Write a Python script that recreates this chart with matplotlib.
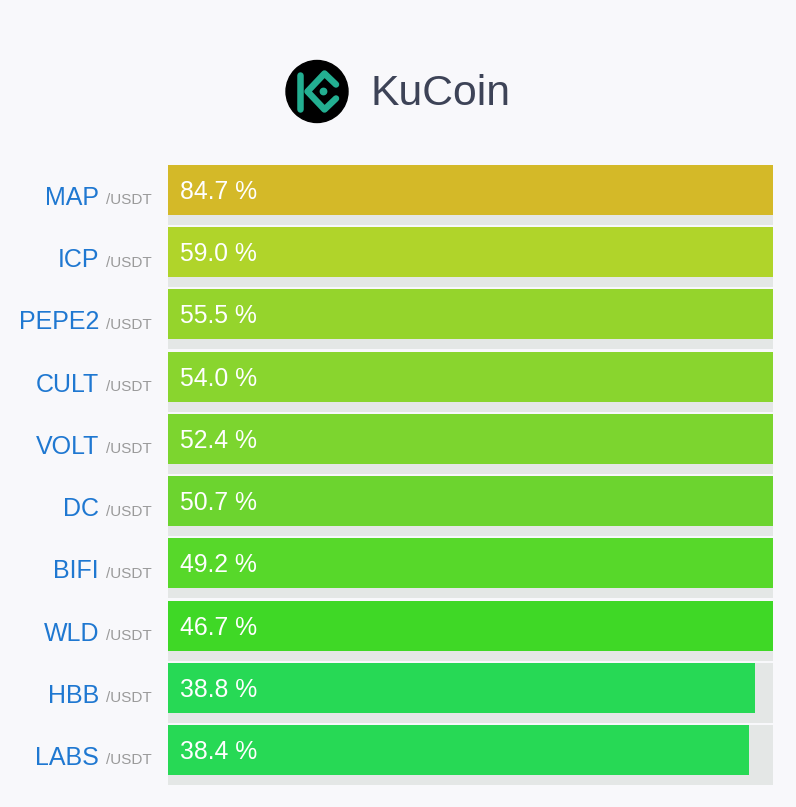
import matplotlib.pyplot as plt
from matplotlib.patches import Circle
from matplotlib.transforms import blended_transform_factory

# data
symbols = ['MAP', 'ICP', 'PEPE2', 'CULT', 'VOLT', 'DC', 'BIFI', 'WLD', 'HBB', 'LABS']
changes = [84.7, 59.0, 55.5, 54.0, 52.4, 50.7, 49.2, 46.7, 38.8, 38.4]
colors = ['#d4b928', '#b0d42a', '#95d42c', '#89d52e', '#7cd52f',
          '#6cd42f', '#57d82a', '#3fd826', '#27d955', '#27d955']
quote = '/USDT'
scale_max = 40

W, H = 796, 807
BG = '#f8f8fb'
FONT = 'Liberation Sans'

fig = plt.figure(figsize=(W / 100, H / 100), dpi=100)
fig.patch.set_facecolor(BG)

# bars area in pixels
left, right, top = 168, 773, 165
pitch = 62.22
n = len(symbols)
bottom = top + n * pitch
ax = fig.add_axes([left / W, (H - bottom) / H, (right - left) / W, n * pitch / H])
ax.set_xlim(0, scale_max)
ax.set_ylim(n - 0.5, -0.5)
ax.axis('off')

track_h = 60 / pitch
bar_h = 50 / pitch
ys = [i - 0.5 for i in range(n)]
ax.barh(ys, [scale_max] * n, height=track_h, align='edge', color='#e4e7e6', linewidth=0)
ax.barh(ys, changes, height=bar_h, align='edge', color=colors, linewidth=0)

x_val = (180 - left) / (right - left) * scale_max
lab_tr = blended_transform_factory(fig.transFigure, ax.transData)
for i, (sym, v) in enumerate(zip(symbols, changes)):
    ax.text(x_val, i - 0.5 + 34 / pitch, f'{v:.1f} %', color='white',
            fontsize=17.8, family=FONT, va='baseline', ha='left')
    ax.text(99 / W, i - 0.5 + 40 / pitch, sym, transform=lab_tr, color='#1f78d1',
            fontsize=18, family=FONT, va='baseline', ha='right')
    ax.text(106 / W, i - 0.5 + 39.5 / pitch, quote, transform=lab_tr, color='#9a9a9a',
            fontsize=11, family=FONT, va='baseline', ha='left')

# logo
cx, cy, s = 317, 91.5, 70
lax = fig.add_axes([(cx - s / 2) / W, (H - cy - s / 2) / H, s / W, s / H])
lax.set_xlim(-35, 35)
lax.set_ylim(-35, 35)
lax.set_aspect('equal')
lax.axis('off')
lax.add_patch(Circle((0, 0), 31, color='black'))
green = '#23af91'
lw = 6.5 * 72 / 100
lax.plot([-17.5, -17.5], [17, -17], color=green, lw=lw, solid_capstyle='round')
lax.plot([19, 7.5, -9.5, 7.5, 19], [7, 18, 0, -18, -7], color=green, lw=lw,
         solid_capstyle='round', solid_joinstyle='round')
lax.add_patch(Circle((6.5, 0), 3.2, color=green))

fig.text(370 / W, (H - 105) / H, 'KuCoin', color='#3d4357', fontsize=30.8,
         family=FONT, va='baseline', ha='left')

fig.savefig('out.png', dpi=100, facecolor=BG)
